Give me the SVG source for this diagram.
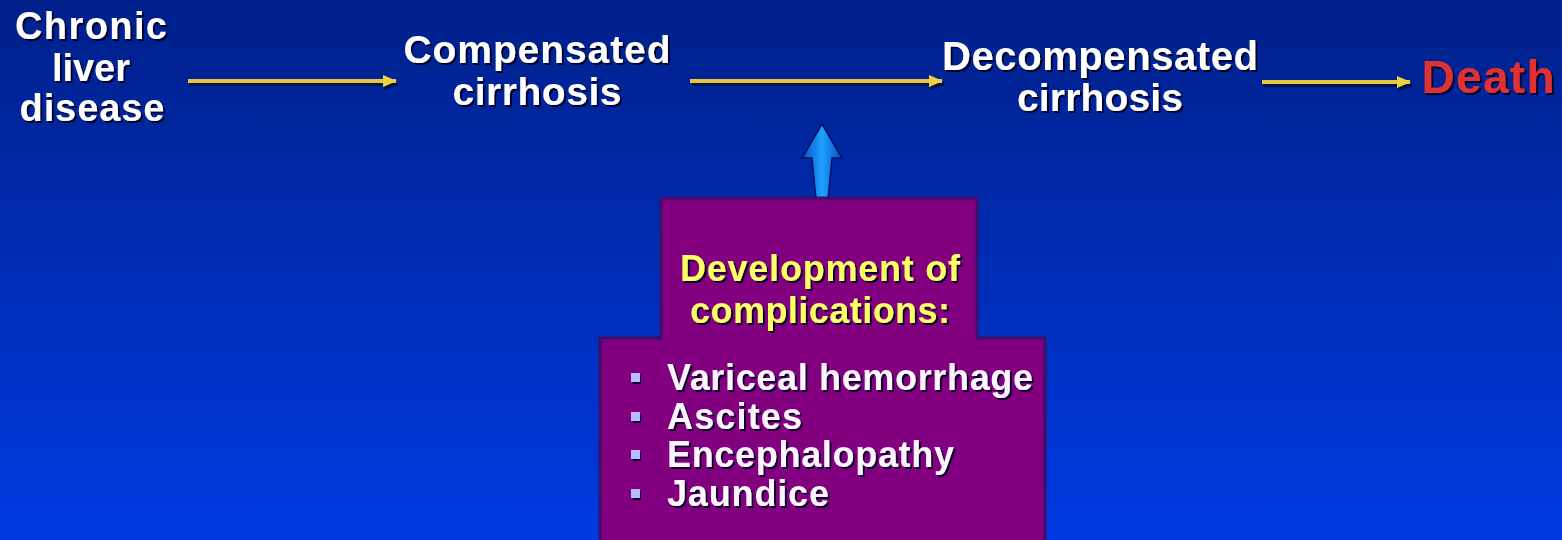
<svg xmlns="http://www.w3.org/2000/svg" width="1562" height="540" viewBox="0 0 1562 540">
<defs>
<linearGradient id="bg" x1="0" y1="0" x2="0" y2="1">
<stop offset="0" stop-color="#00208a"/>
<stop offset="1" stop-color="#003ae2"/>
</linearGradient>
<linearGradient id="blueArrow" x1="0" y1="0" x2="1" y2="0">
<stop offset="0" stop-color="#0050c8"/>
<stop offset="0.5" stop-color="#20a0ff"/>
<stop offset="1" stop-color="#0050c8"/>
</linearGradient>
<filter id="sh" x="-10%" y="-20%" width="120%" height="150%">
<feDropShadow dx="2" dy="2" stdDeviation="0.7" flood-color="#000028" flood-opacity="0.95"/>
</filter>
<marker id="ah" markerWidth="14" markerHeight="12" refX="13" refY="6" orient="auto" markerUnits="userSpaceOnUse">
<path d="M0,0 L14,6 L0,12 Z" fill="#f0d040"/>
</marker>
<marker id="ahs" markerWidth="14" markerHeight="12" refX="13" refY="6" orient="auto" markerUnits="userSpaceOnUse">
<path d="M0,0 L14,6 L0,12 Z" fill="#001038"/>
</marker>
<style>
.t{font-family:"Liberation Sans",Arial,sans-serif;font-weight:bold;fill:#ffffff;filter:url(#sh);text-anchor:middle}
.y{fill:#ffff66}
.w{fill:#fff4ff;text-anchor:start}
.red{fill:#e03030}
.conn{stroke:#e8c840;stroke-width:4;fill:none;marker-end:url(#ah)}
.cs{stroke:#001038;stroke-width:4;fill:none;marker-end:url(#ahs);opacity:0.8}
.bul{fill:#b8bcff;filter:url(#sh)}
</style>
</defs>
<rect x="0" y="0" width="1562" height="540" fill="url(#bg)"/>

<g id="connectors">
<line class="cs" x1="190" y1="84" x2="398" y2="84"/>
<line class="conn" x1="188" y1="81" x2="396" y2="81"/>
<line class="cs" x1="692" y1="84" x2="944" y2="84"/>
<line class="conn" x1="690" y1="81" x2="942" y2="81"/>
<line class="cs" x1="1264" y1="85" x2="1412" y2="85"/>
<line class="conn" x1="1262" y1="82" x2="1410" y2="82"/>
<path d="M822,124 L842,158 L832,158 L828,200 L822,212 L816,200 L812,158 L802,158 Z" fill="url(#blueArrow)" stroke="#001060" stroke-width="1.5"/>
</g>

<g id="node-chronic">
<text class="t" x="91" y="39" font-size="38" textLength="152">Chronic</text>
<text class="t" x="91" y="81" font-size="38" textLength="78">liver</text>
<text class="t" x="92" y="121" font-size="38" textLength="145">disease</text>
</g>

<g id="node-compensated">
<text class="t" x="537" y="63" font-size="39" textLength="267">Compensated</text>
<text class="t" x="537" y="105" font-size="39" textLength="169">cirrhosis</text>
</g>

<g id="node-decompensated">
<text class="t" x="1100" y="70" font-size="40" textLength="316">Decompensated</text>
<text class="t" x="1100" y="111" font-size="39" textLength="166">cirrhosis</text>
</g>

<g id="node-death">
<text class="t red" x="1488" y="93" font-size="46" textLength="133">Death</text>
</g>

<g id="node-complications">
<path d="M661,198 L977,198 L977,338 L1045,338 L1045,542 L600,542 L600,338 L661,338 Z" fill="#820080" stroke="#3a106a" stroke-width="3"/>
<text class="t y" x="820" y="281" font-size="36" textLength="280">Development of</text>
<text class="t y" x="820" y="323" font-size="36" textLength="260">complications:</text>
<rect class="bul" x="631" y="373" width="9" height="9"/>
<rect class="bul" x="631" y="412" width="9" height="9"/>
<rect class="bul" x="631" y="450" width="9" height="9"/>
<rect class="bul" x="631" y="489" width="9" height="9"/>
<text class="t w" x="667" y="390" font-size="36" textLength="366">Variceal hemorrhage</text>
<text class="t w" x="667" y="429" font-size="36" textLength="135">Ascites</text>
<text class="t w" x="667" y="467" font-size="36" textLength="287">Encephalopathy</text>
<text class="t w" x="667" y="506" font-size="36" textLength="162">Jaundice</text>
</g>
</svg>
